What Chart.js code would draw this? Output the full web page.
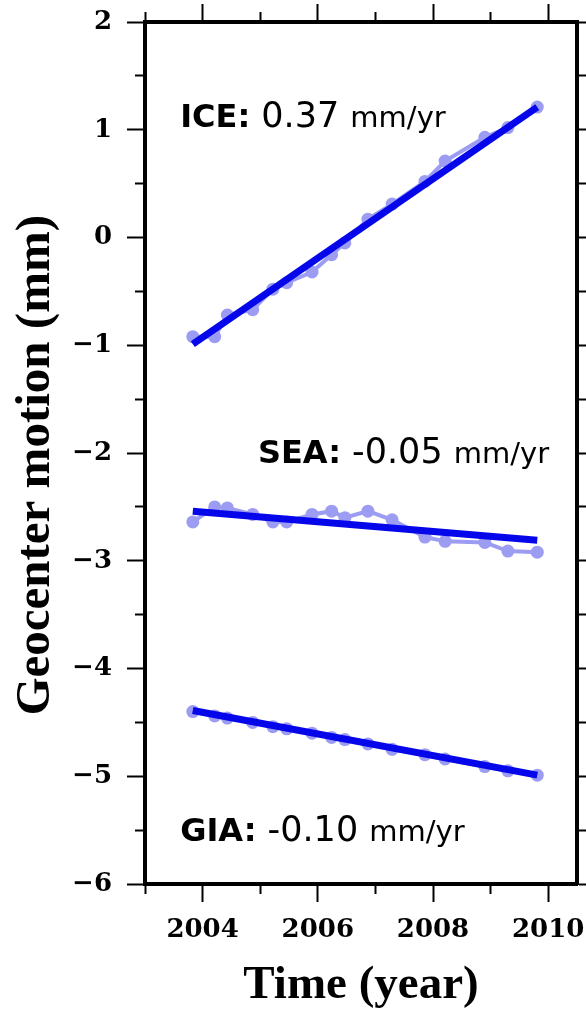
<!DOCTYPE html>
<html>
<head>
<meta charset="utf-8">
<script src="https://cdn.jsdelivr.net/npm/chart.js@4"></script>
<style>
  html, body { margin: 0; padding: 0; background: #fff; }
  #wrap { width: 586px; height: 1010px; }
</style>
</head>
<body>
<div id="wrap"><canvas id="geoChart" width="586" height="1010"></canvas></div>
<script>
// Sample epochs (decimal year)
const years = [2003.83, 2004.21, 2004.43, 2004.87, 2005.22, 2005.46, 2005.90, 2006.24,
               2006.47, 2006.87, 2007.29, 2007.86, 2008.21, 2008.90, 2009.30, 2009.81];
const iceValues = [-0.92, -0.92, -0.72, -0.67, -0.48, -0.42, -0.32, -0.16,
                   -0.05, 0.17, 0.31, 0.52, 0.71, 0.93, 1.02, 1.21];
const seaValues = [-2.64, -2.50, -2.51, -2.57, -2.64, -2.64, -2.57, -2.54,
                   -2.60, -2.54, -2.62, -2.78, -2.82, -2.83, -2.91, -2.92];
const giaValues = [-4.40, -4.44, -4.46, -4.50, -4.54, -4.56, -4.60, -4.64,
                   -4.66, -4.70, -4.75, -4.80, -4.84, -4.91, -4.95, -4.99];

// Linear trends (end points)
const trendYears = [2003.83, 2009.81];
const iceTrend = [-0.99, 1.21];
const seaTrend = [-2.54, -2.81];
const giaTrend = [-4.39, -4.99];

// Axis ticks
const yearTicks = [2003, 2004, 2005, 2006, 2007, 2008, 2009, 2010];
const yearTickLabels = ['', '2004', '', '2006', '', '2008', '', '2010'];
const mmTicks = [2, 1.5, 1, 0.5, 0, -0.5, -1, -1.5, -2, -2.5, -3, -3.5, -4, -4.5, -5, -5.5, -6];
const mmTickLabels = ['2', '', '1', '', '0', '', '\u22121', '', '\u22122', '', '\u22123', '',
                      '\u22124', '', '\u22125', '', '\u22126'];

const rateLabels = [
    { name: 'ICE:', rate: '0.37', x: 2003.61, y: 1.03 },
    { name: 'SEA:', rate: '-0.05', x: 2004.96, y: -2.09 },
    { name: 'GIA:', rate: '-0.10', x: 2003.61, y: -5.60 },
];

const toPoints = (xs, ys) => xs.map((x, i) => ({ x: x, y: ys[i] }));

const RAW = '#9c9cf2';
const TREND = '#0606ea';

function rawSet(label, values) {
    return {
        label: label,
        data: toPoints(years, values),
        showLine: true,
        borderColor: RAW,
        backgroundColor: RAW,
        borderWidth: 4,
        pointRadius: 6.5,
        pointBorderWidth: 0,
        order: 2
    };
}

function trendSet(label, values) {
    return {
        label: label,
        data: toPoints(trendYears, values),
        showLine: true,
        borderColor: TREND,
        backgroundColor: TREND,
        borderWidth: 7,
        pointRadius: 0,
        order: 1
    };
}

// minor ticks are shorter: dash pattern keeps only the part next to the frame
const isMinorYear = ctx => ctx.tick && yearTickLabels[yearTicks.indexOf(ctx.tick.value)] === '';
const isMinorMm = ctx => ctx.tick && mmTickLabels[mmTicks.indexOf(ctx.tick.value)] === '';
const OUTER_FIRST = [0, 8, 8, 40];   // top / left: line drawn from outer end to frame
const FRAME_FIRST = [8, 40];         // bottom / right: line drawn from frame outward

function frameGrid(minorTest, minorDash) {
    return {
        drawOnChartArea: false,
        drawTicks: true,
        tickLength: 18,
        tickWidth: 2,
        tickColor: '#000',
        tickBorderDash: ctx => (minorTest(ctx) ? minorDash : [])
    };
}
const frameBorder = { display: true, color: '#000', width: 4 };

// fixed box sizes, no extra label padding around the plot frame
function fixBox(w, h) {
    return s => {
        if (w !== null) s.width = w;
        if (h !== null) s.height = h;
        s.paddingLeft = s.paddingRight = s.paddingTop = s.paddingBottom = 0;
    };
}

// free text annotations placed through the chart's scales
const rateLabelPlugin = {
    id: 'rateLabels',
    afterDatasetsDraw(chart) {
        const c = chart.ctx;
        const sx = chart.scales.x, sy = chart.scales.y;
        c.save();
        c.fillStyle = '#000';
        c.textBaseline = 'alphabetic';
        c.textAlign = 'left';
        rateLabels.forEach(l => {
            let px = sx.getPixelForValue(l.x);
            const py = sy.getPixelForValue(l.y);
            const parts = [
                [l.name, 'bold 32px "DejaVu Sans"'],
                [' ' + l.rate + ' ', '35px "DejaVu Sans"'],
                ['mm/yr', '29px "DejaVu Sans"']
            ];
            parts.forEach(([t, f]) => {
                c.font = f;
                c.fillText(t, px, py);
                px += c.measureText(t).width;
            });
        });
        c.restore();
    }
};

Chart.defaults.color = '#000';
Chart.defaults.font.family = '"DejaVu Serif", serif';

new Chart(document.getElementById('geoChart'), {
    type: 'scatter',
    data: {
        datasets: [
            trendSet('ICE trend', iceTrend),
            trendSet('SEA trend', seaTrend),
            trendSet('GIA trend', giaTrend),
            rawSet('ICE', iceValues),
            rawSet('SEA', seaValues),
            rawSet('GIA', giaValues)
        ]
    },
    options: {
        responsive: false,
        animation: false,
        layout: { padding: { top: 22, right: 9, left: 0, bottom: 0 } },
        plugins: {
            legend: { display: false },
            tooltip: { enabled: false }
        },
        scales: {
            x: {
                type: 'linear',
                position: 'bottom',
                min: 2003,
                max: 2010.5,
                afterBuildTicks: s => { s.ticks = yearTicks.map(v => ({ value: v })); },
                afterFit: fixBox(null, 126),
                ticks: {
                    autoSkip: false,
                    maxRotation: 0,
                    padding: 13,
                    font: { size: 26, weight: 'bold' },
                    callback: v => yearTickLabels[yearTicks.indexOf(v)]
                },
                grid: frameGrid(isMinorYear, FRAME_FIRST),
                border: frameBorder,
                title: {
                    display: true,
                    text: 'Time (year)',
                    font: { family: '"Liberation Serif", serif', size: 47, weight: 'bold', lineHeight: 1 },
                    padding: { top: 0, bottom: 1 }
                }
            },
            x2: {
                type: 'linear',
                position: 'top',
                min: 2003,
                max: 2010.5,
                afterBuildTicks: s => { s.ticks = yearTicks.map(v => ({ value: v })); },
                afterFit: fixBox(null, 0),
                ticks: { display: false },
                grid: frameGrid(isMinorYear, OUTER_FIRST),
                border: frameBorder
            },
            y: {
                type: 'linear',
                position: 'left',
                min: -6,
                max: 2,
                afterBuildTicks: s => { s.ticks = mmTicks.map(v => ({ value: v })); },
                afterFit: fixBox(145, null),
                ticks: {
                    autoSkip: false,
                    padding: 15,
                    font: { size: 26, weight: 'bold' },
                    callback: v => mmTickLabels[mmTicks.indexOf(v)]
                },
                grid: frameGrid(isMinorMm, OUTER_FIRST),
                border: frameBorder,
                title: {
                    display: true,
                    // trailing spaces nudge the centred title a little lower, as in the original
                    text: 'Geocenter motion (mm)  ',
                    font: { family: '"Liberation Serif", serif', size: 49, weight: 'bold', lineHeight: 1 },
                    padding: { top: 12, bottom: 0 }
                }
            },
            y2: {
                type: 'linear',
                position: 'right',
                min: -6,
                max: 2,
                afterBuildTicks: s => { s.ticks = mmTicks.map(v => ({ value: v })); },
                afterFit: fixBox(0, null),
                ticks: { display: false },
                grid: frameGrid(isMinorMm, FRAME_FIRST),
                border: frameBorder
            }
        }
    },
    plugins: [rateLabelPlugin]
});
</script>
</body>
</html>
